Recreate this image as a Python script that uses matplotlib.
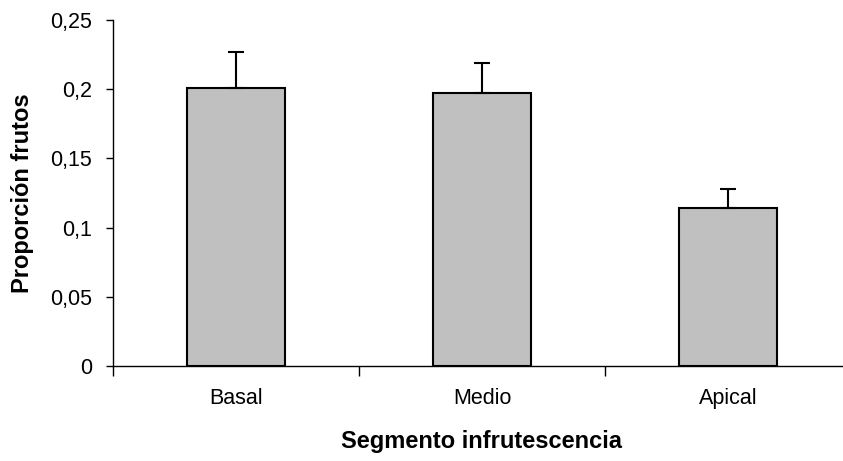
import matplotlib
matplotlib.use("Agg")
import matplotlib.pyplot as plt
import numpy as np

categories = ["Basal", "Medio", "Apical"]
proportions = [0.201, 0.1975, 0.1143]
errors = [0.0255, 0.021, 0.0133]
y_ticks = [0, 0.05, 0.1, 0.15, 0.2, 0.25]
y_tick_labels = ["0", "0,05", "0,1", "0,15", "0,2", "0,25"]

plt.rcParams["font.family"] = ["Liberation Sans", "DejaVu Sans"]

fig = plt.figure(figsize=(8.43, 4.61), dpi=100)
ax = fig.add_axes([0.134, 0.206, 0.8754, 0.751])

x = np.arange(len(categories))
ax.bar(x, proportions, width=0.40, color="#C0C0C0", edgecolor="black",
       linewidth=1.5, zorder=2)
ax.errorbar(x, proportions, yerr=[np.zeros(len(errors)), errors], fmt="none",
            ecolor="black", elinewidth=1.5, capsize=6, capthick=1.5, zorder=3)

ax.set_xlim(-0.5, len(categories) - 0.5)
ax.set_ylim(0, 0.25)
ax.set_yticks(y_ticks)
ax.set_yticklabels(y_tick_labels, fontsize=15.5)

# category labels centred, boundary tick marks between categories
ax.set_xticks(x)
ax.set_xticklabels(categories, fontsize=15.5)
ax.tick_params(axis="x", which="major", length=0, pad=16)
ax.set_xticks(np.arange(-0.5, len(categories)), minor=True)
ax.tick_params(axis="x", which="minor", length=7, width=1, color="black",
               direction="out")
ax.tick_params(axis="y", length=5, width=1, direction="out", pad=10)

for side in ("top", "right"):
    ax.spines[side].set_visible(False)
for side in ("left", "bottom"):
    ax.spines[side].set_linewidth(1)
    ax.spines[side].set_color("black")

ax.set_ylabel("Proporción frutos", fontsize=17, fontweight="bold")
ax.set_xlabel("Segmento infrutescencia", fontsize=17, fontweight="bold")
ax.yaxis.set_label_coords(-0.107, 0.5)
ax.xaxis.set_label_coords(0.5, -0.185)

fig.savefig("out.png", dpi=100)
